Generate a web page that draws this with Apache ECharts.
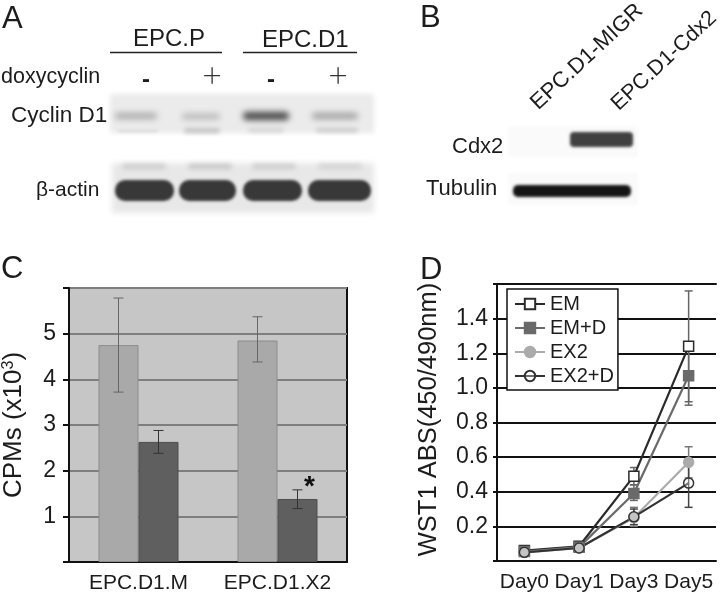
<!DOCTYPE html>
<html>
<head>
<meta charset="utf-8">
<script src="https://cdn.jsdelivr.net/npm/echarts@6/dist/echarts.min.js"></script>
<style>
  html, body { margin: 0; padding: 0; background: #fff; }
  #main { width: 720px; height: 594px; }
</style>
</head>
<body>
<div id="main"></div>
<script>
// panel C
var cpmCategories = ['EPC.D1.M', 'EPC.D1.X2'];
var cpmLight = [4.75, 4.85];
var cpmDark = [2.63, 1.38];
var cpmLightLow = [3.72, 4.38];
var cpmLightHigh = [5.78, 5.37];
var cpmDarkLow = [2.38, 1.17];
var cpmDarkHigh = [2.88, 1.58];

// panel D
var days = ['Day0', 'Day1', 'Day3', 'Day5'];
var em = [0.06, 0.085, 0.49, 1.24];
var emD = [0.055, 0.08, 0.39, 1.07];
var ex2 = [0.05, 0.075, 0.25, 0.57];
var ex2D = [0.05, 0.075, 0.255, 0.45];
var emLow = [0.05, 0.075, 0.44, 0.92];
var emHigh = [0.07, 0.095, 0.54, 1.56];
var emDLow = [0.045, 0.07, 0.35, 0.90];
var emDHigh = [0.065, 0.09, 0.44, 1.24];
var ex2Low = [0.04, 0.065, 0.20, 0.48];
var ex2High = [0.06, 0.085, 0.31, 0.66];
var ex2DLow = [0.04, 0.065, 0.21, 0.31];
var ex2DHigh = [0.06, 0.085, 0.30, 0.59];

var FONT = '"Liberation Sans", Arial, sans-serif';
var TXT = '#1c1c1c';

// error bar series, offset = px from the category centre
function errSeries(lows, highs, xi, yi, color, cap, width, offset) {
  return {
    type: 'custom',
    xAxisIndex: xi,
    yAxisIndex: yi,
    z: 4,
    silent: true,
    data: lows.map(function (v, i) { return [i, v, highs[i]]; }),
    renderItem: function (params, api) {
      var lo = api.coord([api.value(0), api.value(1)]);
      var hi = api.coord([api.value(0), api.value(2)]);
      var x = lo[0] + offset;
      var st = { stroke: color, lineWidth: width };
      return {
        type: 'group',
        children: [
          { type: 'line', shape: { x1: x, y1: lo[1], x2: x, y2: hi[1] }, style: st },
          { type: 'line', shape: { x1: x - cap, y1: lo[1], x2: x + cap, y2: lo[1] }, style: st },
          { type: 'line', shape: { x1: x - cap, y1: hi[1], x2: x + cap, y2: hi[1] }, style: st }
        ]
      };
    }
  };
}

function lineSeries(name, data, color, symbol, size, fill) {
  return {
    name: name,
    type: 'line',
    xAxisIndex: 1,
    yAxisIndex: 1,
    z: 5,
    data: data,
    symbol: symbol,
    symbolSize: size,
    lineStyle: { color: color, width: 2.2 },
    itemStyle: { color: fill, borderColor: color, borderWidth: 1.5 }
  };
}

// soft blot band: the rect sits off the page, only its blurred shadow lands on the page
function band(x, y, w, h, color, blur, r) {
  return {
    type: 'rect',
    silent: true,
    shape: { x: x - 1500, y: y, width: w, height: h, r: r === undefined ? h / 2 : r },
    style: { fill: color, shadowColor: color, shadowBlur: blur, shadowOffsetX: 1500 }
  };
}

function label(s, x, y, size, extra) {
  var st = { text: s, x: 0, y: 0, fill: TXT, font: size + 'px ' + FONT, align: 'left', verticalAlign: 'middle' };
  var o = { type: 'text', silent: true, x: x, y: y, z: 20, style: st };
  for (var k in (extra || {})) { st[k] = extra[k]; }
  return o;
}

var blots = [
  // A: cyclin D1
  band(110, 94, 264, 39, '#ebebeb', 5, 0),
  band(115, 113, 42, 6, '#a8a8a8', 6),
  band(182, 114, 38, 5, '#afafaf', 6),
  band(243, 112, 46, 8, '#444444', 6),
  band(312, 113, 46, 6, '#9c9c9c', 6),
  band(118, 130, 40, 2, '#d6d6d6', 3),
  band(184, 128, 36, 5, '#c4c4c4', 4),
  band(248, 128, 36, 4, '#d2d2d2', 4),
  band(316, 128, 42, 4, '#c8c8c8', 4),
  // A: beta-actin
  band(112, 163, 262, 50, '#e8e8e8', 6, 0),
  band(122, 164, 44, 5, '#cbcbcb', 5),
  band(188, 164, 44, 5, '#c6c6c6', 5),
  band(252, 164, 44, 5, '#cbcbcb', 5),
  band(318, 164, 44, 5, '#d2d2d2', 5),
  band(115, 180, 59, 21, '#383838', 3, 10),
  band(179, 180, 57, 21, '#383838', 3, 10),
  band(243, 180, 59, 21, '#383838', 3, 10),
  band(308, 180, 63, 21, '#383838', 3, 10),
  // B
  band(508, 126, 130, 31, '#fafafa', 3, 0),
  band(508, 173, 130, 32, '#fafafa', 3, 0),
  band(570, 132, 63, 15, '#404040', 3, 4),
  band(513, 185, 118, 12, '#141414', 3, 5)
];

var texts = [
  label('A', 2, 19, 31),
  label('B', 420, 18, 31),
  label('C', 1, 269, 31),
  label('D', 420, 270, 31),
  label('EPC.P', 133, 39, 24),
  label('EPC.D1', 262, 40, 24),
  { type: 'line', silent: true, shape: { x1: 110, y1: 52.5, x2: 222, y2: 52.5 }, style: { stroke: '#222', lineWidth: 1.5 } },
  { type: 'line', silent: true, shape: { x1: 243, y1: 52.5, x2: 357, y2: 52.5 }, style: { stroke: '#222', lineWidth: 1.5 } },
  label('doxycyclin', 1, 77, 21.5),
  label('-', 142, 80, 24, { font: 'bold 24px ' + FONT }),
  label('-', 267, 80, 24, { font: 'bold 24px ' + FONT }),
  label('+', 212, 76, 34, { font: '300 34px Lato, ' + FONT, fill: '#333', align: 'center' }),
  label('+', 338, 76, 34, { font: '300 34px Lato, ' + FONT, fill: '#333', align: 'center' }),
  label('Cyclin D1', 11, 116, 22.5),
  label('β-actin', 36, 190, 21),
  label('EPC.D1-MIGR', 587, 57, 22, { align: 'center' }),
  label('EPC.D1-Cdx2', 664, 61, 21.5, { align: 'center' }),
  label('Cdx2', 452, 147, 22),
  label('Tubulin', 426, 189, 22),
  label('*', 304, 487, 28, { font: 'bold 28px ' + FONT, fill: '#111' })
];
texts[15].rotation = 0.75;
texts[16].rotation = 0.75;

var chart = echarts.init(document.getElementById('main'));
chart.setOption({
  animation: false,
  backgroundColor: '#fff',
  textStyle: { fontFamily: FONT },
  grid: [
    { left: 67, top: 288, width: 280, height: 274, show: true, backgroundColor: '#c6c6c6', borderColor: '#111', borderWidth: 2 },
    { left: 497, top: 284, width: 219, height: 277, show: false }
  ],
  xAxis: [
    {
      type: 'category', gridIndex: 0, data: cpmCategories,
      axisLine: { lineStyle: { color: '#111', width: 2 } },
      axisTick: { length: 9, lineStyle: { color: '#111', width: 2 } },
      axisLabel: { color: TXT, fontSize: 21, margin: 11, interval: 0 }
    },
    {
      type: 'category', gridIndex: 1, data: days,
      axisLine: { lineStyle: { color: '#111', width: 2 } },
      axisTick: { length: 5, lineStyle: { color: '#111', width: 2 } },
      axisLabel: { color: TXT, fontSize: 21, margin: 11, interval: 0 }
    },
    { type: 'category', gridIndex: 1, position: 'top', data: days,
      axisLine: { lineStyle: { color: '#111', width: 2 } }, axisTick: { show: false }, axisLabel: { show: false } }
  ],
  yAxis: [
    {
      type: 'value', gridIndex: 0, min: 0, max: 6, interval: 1,
      name: '{a|CPMs (x10}{b|3}{a|)}', nameLocation: 'middle', nameGap: 42,
      nameTextStyle: { rich: { a: { fontSize: 26, color: TXT }, b: { fontSize: 16, color: TXT, verticalAlign: 'top' } } },
      axisLine: { show: true, lineStyle: { color: '#111', width: 2 } },
      axisTick: { show: true, length: 6, lineStyle: { color: '#111', width: 2 } },
      axisLabel: { color: TXT, fontSize: 23, margin: 13, formatter: function (v) { return v > 0 && v < 6 ? v : ''; } },
      splitLine: { lineStyle: { color: '#7e7e7e', width: 2 } }
    },
    {
      type: 'value', gridIndex: 1, min: 0, max: 1.6, interval: 0.2,
      name: 'WST1 ABS(450/490nm)', nameLocation: 'middle', nameGap: 55,
      nameTextStyle: { fontSize: 25.5, color: TXT, padding: [0, 0, 0, 6] },
      axisLine: { show: true, lineStyle: { color: '#111', width: 2 } },
      axisTick: { show: true, length: 4, lineStyle: { color: '#111', width: 2 } },
      axisLabel: { color: TXT, fontSize: 23, margin: 9, formatter: function (v) { return v > 0 && v < 1.5 ? v.toFixed(1) : ''; } },
      splitLine: { lineStyle: { color: '#111', width: 2 } }
    }
  ],
  legend: {
    data: ['EM', 'EM+D', 'EX2', 'EX2+D'],
    orient: 'vertical',
    left: 507, top: 289,
    padding: [4, 4, 3, 7],
    itemGap: 2,
    itemWidth: 30, itemHeight: 13,
    backgroundColor: '#fff',
    borderColor: '#111', borderWidth: 1.5, borderRadius: 0,
    textStyle: { color: TXT, fontSize: 20, lineHeight: 22 },
    selectedMode: false
  },
  series: [
    {
      type: 'bar', xAxisIndex: 0, yAxisIndex: 0, data: cpmLight, barWidth: 40, barGap: 0, z: 2,
      itemStyle: { color: '#a9a9a9', borderColor: '#8c8c8c', borderWidth: 1 }
    },
    {
      type: 'bar', xAxisIndex: 0, yAxisIndex: 0, data: cpmDark, barWidth: 40, barGap: 0, z: 2,
      itemStyle: { color: '#5f5f5f', borderColor: '#4f4f4f', borderWidth: 1 }
    },
    errSeries(cpmLightLow, cpmLightHigh, 0, 0, '#666', 5, 1, -20),
    errSeries(cpmDarkLow, cpmDarkHigh, 0, 0, '#333', 5, 1, 20),
    errSeries(emLow, emHigh, 1, 1, '#666', 4, 1.5, 0),
    errSeries(emDLow, emDHigh, 1, 1, '#666', 4, 1.5, 0),
    errSeries(ex2Low, ex2High, 1, 1, '#777', 4, 1.5, 0),
    errSeries(ex2DLow, ex2DHigh, 1, 1, '#444', 4, 1.5, 0),
    lineSeries('EM', em, '#2a2a2a', 'rect', 10, '#fff'),
    lineSeries('EM+D', emD, '#6a6a6a', 'rect', 10, '#6a6a6a'),
    lineSeries('EX2', ex2, '#ababab', 'circle', 10, '#ababab'),
    lineSeries('EX2+D', ex2D, '#333', 'circle', 10, 'rgba(255,255,255,0.3)')
  ],
  graphic: blots.concat(texts)
});
</script>
</body>
</html>
